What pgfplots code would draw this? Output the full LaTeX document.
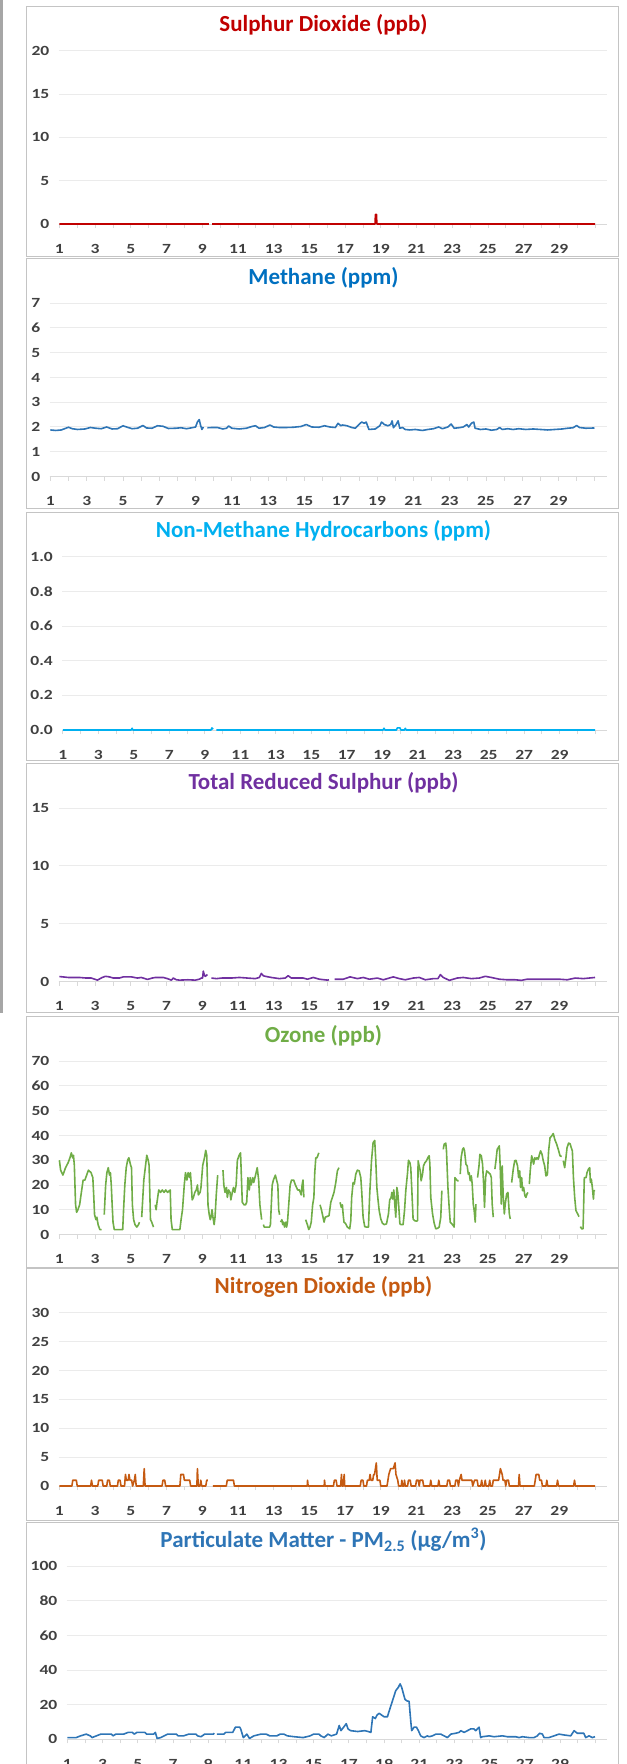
\documentclass[border=0pt]{standalone}
\usepackage{pgfplots}
\pgfplotsset{compat=1.18}
\usepackage{fontspec}
\setmainfont{Carlito}
\newfontfamily\tickfont[FakeStretch=1.25]{Carlito}
\newcommand{\tkf}{\tickfont\bfseries\fontsize{14bp}{14bp}\selectfont}
\definecolor{lab}{HTML}{404040}
\definecolor{gridc}{HTML}{EBEBEB}
\definecolor{axc}{HTML}{D9D9D9}
\definecolor{framec}{HTML}{C4C4C4}
\definecolor{barc}{HTML}{A6A6A6}
\definecolor{cSO}{HTML}{C00000}
\definecolor{cCH}{HTML}{0070C0}
\definecolor{cCHl}{HTML}{2E75B6}
\definecolor{cNM}{HTML}{00B0F0}
\definecolor{cTR}{HTML}{7030A0}
\definecolor{cOZ}{HTML}{70AD47}
\definecolor{cNO}{HTML}{C55A11}
\definecolor{cPM}{HTML}{2E75B6}
\pgfplotsset{
  panel/.style={
    scale only axis, height=173.3bp,
    xmin=0.95, xmax=31.67, ymin=0,
    axis lines*=left,
    y axis line style={draw=none},
    x axis line style={draw=axc, line width=1bp},
    xtick={1,...,31},
    xticklabels={1,,3,,5,,7,,9,,11,,13,,15,,17,,19,,21,,23,,25,,27,,29,,},
    tick align=outside,
    xtick style={draw=axc, line width=0.8bp},
    major tick length=4bp,
    ytick style={draw=none},
    ymajorgrids, grid style={draw=gridc, line width=1bp},
    tick label style={font=\tkf, text=lab},
    yticklabel style={font=\tkf, text=lab, anchor=east, inner sep=0pt, xshift=-5bp},
    xticklabel style={font=\tkf, text=lab, anchor=base, inner sep=0pt, yshift=-25bp},
    /pgf/number format/assume math mode=true,
    unbounded coords=jump,
    every axis plot/.append style={line width=1.6bp, line join=round},
  }
}
\tikzset{ttl/.style={anchor=base, font=\bfseries\fontsize{23bp}{23bp}\selectfont}}
\begin{document}
\begin{tikzpicture}
\useasboundingbox (0,0) rectangle (627bp,-1764bp);
\fill[barc] (0,0) rectangle (3.3bp,-1013bp);
\foreach \t/\b in {6/256,258.5/508,512/760,763.5/1012.7,1016.5/1267,1268/1520,1522/1775}{
  \draw[framec, line width=1bp] (26bp,-\t bp) rectangle (618.7bp,-\b bp);
}
% ---------- Sulphur dioxide
\node[ttl, text=cSO] at (323.5bp,-31.7bp) {Sulphur Dioxide (ppb)};
\begin{axis}[panel, at={(58.5bp,-224bp)}, anchor=south west, width=548.5bp,
  ymax=20, ytick={0,5,10,15,20}]
\addplot[cSO] coordinates {(1,0)(9.37,0)(9.45,nan)(9.55,0)(18.68,0)(18.7,1.1)(18.76,1.1)(18.78,0)(31,0)};
\end{axis}
% ---------- Methane
\node[ttl, text=cCH] at (323.5bp,-284.3bp) {Methane (ppm)};
\begin{axis}[panel, at={(49.5bp,-476.5bp)}, anchor=south west, width=557.5bp,
  ymax=7, ytick={0,1,...,7}]
\addplot[cCHl] coordinates {(1.0,1.88)(1.3,1.86)(1.6,1.88)(1.85,1.95)(2.0,1.99)(2.2,1.93)(2.5,1.9)(2.9,1.92)(3.2,1.98)(3.5,1.95)(3.8,1.93)(4.1,2.0)(4.4,1.92)(4.7,1.93)(5.0,2.05)(5.2,2.0)(5.5,1.93)(5.8,1.95)(6.1,2.06)(6.3,1.96)(6.6,1.95)(6.9,2.05)(7.2,2.03)(7.5,1.94)(7.9,1.95)(8.2,1.97)(8.5,1.93)(8.8,1.97)(9.0,2.0)(9.1,2.2)(9.2,2.3)(9.28,2.05)(9.35,1.9)(9.43,2.0)(9.5,nan)(9.65,1.97)(9.9,1.98)(10.2,1.98)(10.5,1.92)(10.7,1.95)(10.82,2.04)(11.0,1.95)(11.4,1.92)(11.8,1.95)(12.1,2.02)(12.3,2.05)(12.5,1.95)(12.8,1.98)(13.1,2.08)(13.3,2.0)(13.6,1.98)(14.0,1.98)(14.4,1.99)(14.8,2.02)(15.1,2.1)(15.4,2.0)(15.8,1.99)(16.1,2.05)(16.4,2.0)(16.7,1.98)(16.85,2.15)(17.0,2.05)(17.1,2.08)(17.34,2.05)(17.6,1.98)(17.8,1.95)(18.0,2.1)(18.15,2.2)(18.3,2.15)(18.4,2.2)(18.55,1.9)(18.9,1.92)(19.15,2.05)(19.25,2.2)(19.4,2.1)(19.6,2.05)(19.75,2.1)(19.83,2.25)(19.9,1.97)(20.05,2.1)(20.16,2.25)(20.25,1.95)(20.4,1.98)(20.55,1.9)(20.8,1.88)(21.1,1.9)(21.5,1.86)(21.8,1.9)(22.1,1.93)(22.4,2.0)(22.6,1.93)(22.9,2.0)(23.08,2.12)(23.25,1.95)(23.5,1.97)(23.75,2.0)(23.95,2.1)(24.05,2.0)(24.2,2.15)(24.33,2.2)(24.4,1.95)(24.7,1.9)(25.0,1.92)(25.3,1.87)(25.6,1.9)(25.75,1.98)(25.9,1.9)(26.2,1.93)(26.5,1.9)(26.8,1.93)(27.2,1.9)(27.6,1.92)(28.0,1.9)(28.4,1.88)(28.8,1.9)(29.2,1.92)(29.5,1.95)(29.8,1.97)(30.0,2.06)(30.15,1.98)(30.5,1.95)(30.98,1.96)};
\end{axis}
% ---------- NMHC
\node[ttl, text=cNM] at (323.5bp,-537.7bp) {Non-Methane Hydrocarbons (ppm)};
\begin{axis}[panel, at={(62bp,-730bp)}, anchor=south west, width=545bp,
  ymax=1, ytick={0,0.2,0.4,0.6,0.8,1.0},
  yticklabel style={/pgf/number format/.cd, fixed, fixed zerofill, precision=1}]
\addplot[cNM] coordinates {(1,0)(4.85,0)(4.9,0.01)(4.95,0)(9.35,0)(9.4,0.012)(9.47,0.005)(9.52,nan)(9.65,0)(19.05,0)(19.1,0.01)(19.15,0)(19.8,0)(19.85,0.012)(20.0,0.012)(20.05,0)(20.25,0)(20.3,0.01)(20.35,0)(31,0)};
\end{axis}
% ---------- TRS
\node[ttl, text=cTR] at (323.5bp,-789.2bp) {Total Reduced Sulphur (ppb)};
\begin{axis}[panel, at={(58.5bp,-981.5bp)}, anchor=south west, width=548.5bp,
  ymax=15, ytick={0,5,10,15}]
\addplot[cTR] coordinates {(1.0,0.43)(1.5,0.35)(2.12,0.35)(2.5,0.3)(2.79,0.3)(3.13,0.12)(3.4,0.35)(3.58,0.45)(3.8,0.4)(4.02,0.3)(4.36,0.3)(4.58,0.4)(5.03,0.4)(5.37,0.3)(5.59,0.35)(5.93,0.18)(6.2,0.3)(6.38,0.35)(6.82,0.35)(7.05,0.25)(7.27,0.12)(7.38,0.3)(7.55,0.15)(7.72,0.12)(8.2,0.15)(8.61,0.12)(8.84,0.2)(8.95,0.3)(9.02,0.3)(9.06,0.9)(9.12,0.55)(9.17,0.45)(9.29,0.6)(9.35,nan)(9.51,0.3)(9.8,0.25)(10.1,0.3)(10.63,0.3)(11.08,0.35)(11.53,0.3)(11.97,0.25)(12.2,0.35)(12.31,0.7)(12.42,0.5)(12.53,0.45)(12.87,0.35)(13.32,0.25)(13.65,0.3)(13.81,0.5)(13.99,0.3)(14.4,0.3)(14.66,0.3)(14.89,0.2)(15.22,0.35)(15.56,0.2)(16.01,0.12)(16.1,0.15)(16.2,nan)(16.41,0.2)(16.9,0.2)(17.28,0.4)(17.69,0.25)(18.02,0.35)(18.36,0.2)(18.81,0.3)(19.14,0.15)(19.7,0.4)(20.04,0.25)(20.37,0.15)(20.82,0.3)(21.16,0.35)(21.49,0.15)(21.94,0.25)(22.2,0.25)(22.34,0.6)(22.5,0.35)(22.84,0.1)(23.28,0.3)(23.62,0.35)(24.07,0.25)(24.52,0.3)(24.85,0.45)(25.19,0.35)(25.64,0.2)(26.08,0.15)(26.53,0.15)(26.87,0.1)(27.2,0.2)(28.1,0.2)(28.99,0.2)(29.44,0.15)(29.89,0.3)(30.34,0.25)(31.0,0.35)};
\end{axis}
% ---------- Ozone
\node[ttl, text=cOZ] at (323.5bp,-1042.2bp) {Ozone (ppb)};
\begin{axis}[panel, at={(58.5bp,-1234.5bp)}, anchor=south west, width=548.5bp,
  ymax=70, ytick={0,10,...,70}]
\addplot[cOZ] coordinates {(1.00,30)(1.069,26)(1.197,24)(1.345,27)(1.49,29)(1.591,31)(1.67,33)(1.739,31)(1.788,32)(1.837,28)(1.906,12)(1.965,9)(2.034,10)(2.133,12)(2.231,17)(2.33,22)(2.428,22)(2.527,24)(2.625,26)(2.773,25)(2.872,23)(2.921,16)(2.97,8)(3.049,6)(3.098,7)(3.167,4)(3.266,2)(3.364,2)(3.413,nan)(3.512,8)(3.591,20)(3.66,25)(3.738,27)(3.807,24)(3.857,25)(3.906,20)(3.955,12)(4.004,5)(4.073,2)(4.546,2)(4.595,10)(4.664,20)(4.743,27)(4.822,30)(4.891,31)(4.989,28)(5.039,27)(5.088,12)(5.157,6)(5.236,4)(5.334,3)(5.433,4)(5.482,5)(5.531,nan)(5.61,7)(5.728,22)(5.827,28)(5.895,32)(5.974,30)(6.024,28)(6.102,6)(6.171,5)(6.27,3)(6.319,nan)(6.368,12)(6.418,10)(6.467,13)(6.565,18)(6.664,17)(6.762,18)(6.861,17)(6.959,18)(7.058,17)(7.206,18)(7.255,6)(7.324,2)(7.747,2)(7.816,6)(7.895,10)(7.994,20)(8.062,25)(8.141,22)(8.21,25)(8.289,23)(8.338,25)(8.388,20)(8.437,14)(8.506,15)(8.585,17)(8.663,18)(8.732,20)(8.782,16)(8.88,17)(8.929,19)(9.028,28)(9.126,31)(9.195,34)(9.254,32)(9.323,12)(9.392,8)(9.451,6)(9.491,7)(9.55,10)(9.599,7)(9.668,4)(9.717,7)(9.786,16)(9.865,24)(9.964,nan)(10.161,26)(10.21,20)(10.279,17)(10.358,19)(10.407,15)(10.476,18)(10.555,17)(10.604,14)(10.683,17)(10.752,19)(10.82,17)(10.899,20)(10.968,30)(11.067,32)(11.146,33)(11.244,13)(11.343,12)(11.421,12)(11.49,13)(11.559,23)(11.638,18)(11.687,23)(11.737,20)(11.835,23)(11.884,21)(11.953,23)(12.081,27)(12.16,22)(12.229,12)(12.328,6)(12.377,nan)(12.426,4)(12.475,3)(12.771,3)(12.82,4)(12.869,12)(12.919,20)(12.987,22)(13.096,24)(13.165,22)(13.234,20)(13.283,10)(13.332,8)(13.362,nan)(13.391,5)(13.46,6)(13.51,4)(13.559,5)(13.608,3)(13.687,5)(13.726,3)(13.775,5)(13.854,13)(13.923,20)(14.002,22)(14.12,22)(14.219,20)(14.347,18)(14.445,18)(14.544,16)(14.593,20)(14.642,22)(14.692,15)(14.741,nan)(14.79,6)(14.889,4)(14.967,2)(15.036,3)(15.105,5)(15.184,12)(15.253,15)(15.302,25)(15.361,31)(15.43,31)(15.48,32)(15.529,33)(15.558,nan)(15.598,12)(15.677,10)(15.736,8)(15.824,5)(15.893,7)(16.10,7.6)(16.20,13)(16.29,15)(16.38,17)(16.48,21)(16.57,25.7)(16.66,27)(16.69,nan)(16.72,13)(16.79,11)(16.85,12)(16.89,8.3)(16.94,5)(17.04,4.3)(17.13,3)(17.26,2.3)(17.32,5.6)(17.37,15)(17.45,21)(17.52,20.4)(17.60,24.4)(17.69,26)(17.79,25.7)(17.88,23)(17.93,17.7)(18.01,7)(18.10,3.2)(18.20,3)(18.31,3)(18.38,16.4)(18.48,29.8)(18.57,37.1)(18.66,38)(18.72,29.8)(18.78,19)(18.85,13.7)(18.91,9.7)(19.00,6.3)(19.09,4.6)(19.19,4)(19.32,4.3)(19.43,8.3)(19.50,14)(19.58,15)(19.62,17)(19.67,14.3)(19.73,18)(19.79,11.7)(19.84,7)(19.90,19)(19.95,17)(20.01,11)(20.07,4.3)(20.14,4)(20.25,4)(20.33,9.7)(20.40,17.7)(20.50,25)(20.55,30)(20.63,29)(20.68,27)(20.74,17.7)(20.81,6.3)(20.89,5.6)(21.00,5.4)(21.06,5.6)(21.09,29.8)(21.15,27.7)(21.21,25.7)(21.26,21.7)(21.34,24.4)(21.39,27.7)(21.47,29)(21.56,29.8)(21.64,31.1)(21.71,31.8)(21.75,28.4)(21.80,15)(21.90,8.3)(21.99,4.6)(22.08,2.3)(22.18,2.5)(22.27,3)(22.36,7)(22.42,17.7)(22.46,nan)(22.50,34.4)(22.55,36.5)(22.64,36.9)(22.68,33.8)(22.76,19)(22.83,11)(22.89,5)(22.98,4.3)(23.06,3.6)(23.11,3)(23.15,23)(23.21,22.4)(23.30,21.7)(23.36,21.7)(23.40,nan)(23.45,24.4)(23.50,31)(23.58,34.4)(23.64,35)(23.69,33.8)(23.77,28.4)(23.84,27.7)(23.90,24.4)(23.95,25)(24.01,21.7)(24.07,23.7)(24.12,20.4)(24.18,12.3)(24.23,9.7)(24.29,5)(24.33,12.3)(24.37,nan)(24.42,23)(24.50,27.7)(24.55,32.4)(24.63,31.8)(24.70,28.4)(24.76,20.4)(24.81,11)(24.87,23)(24.93,25.7)(25.04,25)(25.13,24.4)(25.19,23)(25.24,12.3)(25.30,7)(25.35,nan)(25.39,26.4)(25.45,29.8)(25.52,34.4)(25.64,35.8)(25.69,27)(25.75,12.3)(25.80,27.7)(25.86,15)(25.92,8.3)(25.97,12.3)(26.05,16.4)(26.12,17)(26.20,8.3)(26.25,6.3)(26.29,nan)(26.33,21)(26.42,26.4)(26.50,29.8)(26.57,30)(26.66,27.7)(26.72,23)(26.78,25.7)(26.83,19)(26.89,23)(26.94,17.7)(27.00,19)(27.07,15.7)(27.13,15)(27.19,16.4)(27.24,17)(27.28,nan)(27.32,20.4)(27.37,25.7)(27.45,31.8)(27.50,30.4)(27.56,28.4)(27.62,31)(27.69,30.4)(27.75,31)(27.82,30.4)(27.88,32.2)(27.95,33.8)(28.03,32.4)(28.10,29.8)(28.18,27.7)(28.25,23.7)(28.33,24.1)(28.40,33.8)(28.48,39.1)(28.57,39.8)(28.66,40.8)(28.74,38.5)(28.85,36.5)(28.94,34.4)(29.04,31.8)(29.13,31.5)(29.18,nan)(29.22,29.8)(29.30,27)(29.37,31)(29.43,35)(29.52,36.9)(29.60,36.7)(29.67,35)(29.73,33.8)(29.79,23)(29.86,15)(29.93,9.7)(30.03,8.3)(30.10,7.2)(30.14,nan)(30.18,3.2)(30.25,2.3)(30.33,2.3)(30.40,23)(30.50,23)(30.55,25)(30.63,26.4)(30.70,27)(30.74,21)(30.79,22.4)(30.85,19)(30.91,14.3)(30.94,17.7)(31.00,17.7)};
\end{axis}
% ---------- NO2
\node[ttl, text=cNO] at (323.5bp,-1293.7bp) {Nitrogen Dioxide (ppb)};
\begin{axis}[panel, at={(58.5bp,-1486bp)}, anchor=south west, width=548.5bp,
  ymax=30, ytick={0,5,...,30}]
\addplot[cNO] coordinates {(1,0)(1.7,0)(1.75,1)(1.95,1)(2.0,0)(2.75,0)(2.8,1)(2.85,0)(3.15,0)(3.2,1)(3.4,1)(3.45,0)(3.65,0)(3.7,1)(3.8,1)(3.85,0)(4.25,0)(4.3,1)(4.4,1)(4.45,0)(4.65,0)(4.7,2)(4.75,1)(4.85,1)(4.9,2)(4.95,1)(5.05,1)(5.1,0)(5.2,1)(5.25,2)(5.3,0)(5.7,0)(5.75,3)(5.8,0)(6.75,0)(6.8,1)(6.9,1)(6.95,0)(7.75,0)(7.8,2)(7.95,2)(8.0,1)(8.3,1)(8.35,0)(8.7,0)(8.73,3)(8.78,0)(8.88,0)(8.92,1)(8.97,0)(9.2,0)(9.25,1)(9.32,1)(9.35,nan)(9.6,0)(10.35,0)(10.4,1)(10.75,1)(10.8,0)(14.88,0)(14.9,1)(14.93,0)(15.83,0)(15.85,1)(15.88,0)(16.35,0)(16.4,1)(16.5,1)(16.55,0)(16.75,0)(16.8,2)(16.83,0)(16.9,0)(16.95,2)(16.98,0)(17.85,0)(17.9,1)(18.0,1)(18.05,0)(18.2,0)(18.25,1)(18.35,1)(18.4,2)(18.45,1)(18.55,1)(18.6,2)(18.65,2)(18.75,4)(18.8,1)(18.95,1)(19.0,0)(19.35,0)(19.45,2)(19.55,3)(19.7,3)(19.8,4)(19.85,2)(19.95,1)(20.0,0)(20.15,0)(20.18,1)(20.22,0)(20.3,0)(20.33,1)(20.37,0)(20.5,0)(20.55,1)(20.65,1)(20.7,0)(20.95,0)(21.0,1)(21.1,1)(21.15,0)(21.2,1)(21.35,1)(21.4,0)(21.75,0)(21.8,1)(21.85,0)(22.2,0)(22.25,1)(22.3,0)(22.7,0)(22.75,1)(22.85,1)(22.9,0)(23.15,0)(23.2,1)(23.3,1)(23.35,0)(23.4,1)(23.5,2)(23.55,1)(24.1,1)(24.15,0)(24.25,1)(24.4,1)(24.45,0)(24.6,0)(24.65,1)(24.7,0)(24.8,0)(24.85,1)(24.9,0)(25.05,0)(25.1,1)(25.15,0)(25.25,0)(25.3,1)(25.6,1)(25.7,3)(25.8,2)(25.85,1)(25.95,1)(26.0,0)(26.05,1)(26.15,1)(26.2,0)(26.72,0)(26.75,2)(26.8,0)(27.6,0)(27.65,1)(27.7,2)(27.85,2)(27.9,1)(28.0,1)(28.05,0)(28.25,0)(28.3,1)(28.35,0)(28.85,0)(28.9,1)(28.95,0)(29.8,0)(29.85,1)(29.9,0)(31,0)};
\end{axis}
% ---------- PM2.5
\node[ttl, text=cPM] at (323.5bp,-1547.7bp) {Particulate Matter - PM\textsubscript{2.5} (μg/m\textsuperscript{3})};
\begin{axis}[panel, at={(66.5bp,-1739.3bp)}, anchor=south west, width=540.5bp,
  ymax=100, ytick={0,20,...,100}]
\addplot[cPM] coordinates {(1.0,1)(1.5,1)(1.75,2)(2.07,3)(2.3,2)(2.4,1)(2.65,2)(2.9,3)(3.2,3)(3.5,3)(3.6,2)(3.75,3)(4.2,3)(4.45,4)(4.7,4)(4.8,3)(4.95,4)(5.4,4)(5.5,3)(5.9,3)(6.0,4)(6.1,0.5)(6.3,1)(6.5,2)(6.7,3)(7.2,3)(7.3,2)(7.6,2)(7.9,3)(8.3,3)(8.4,2)(8.6,1.5)(8.8,3)(9.3,3)(9.35,3.5)(9.4,nan)(9.5,3)(9.9,3)(10.0,4)(10.4,4)(10.55,7)(10.8,7)(10.85,6)(11.0,1)(11.2,3)(11.35,0.5)(11.6,2)(12.0,3)(12.3,3)(12.5,2)(12.9,2)(13.1,3)(13.3,3)(13.5,2)(13.9,1.5)(14.4,1)(14.8,2)(15.0,3)(15.3,3)(15.4,2)(15.6,1)(15.8,3)(16.0,2)(16.3,3)(16.45,8)(16.55,5)(16.7,7)(16.85,9)(16.95,6)(17.1,5)(17.5,4.5)(17.9,5)(18.1,4.5)(18.25,4)(18.35,13)(18.5,12)(18.6,14)(18.72,15)(19.0,13)(19.19,13)(19.28,16)(19.47,22)(19.66,28)(19.81,30)(19.91,32)(20.0,30)(20.08,27)(20.19,23)(20.33,22)(20.42,22)(20.52,10)(20.57,5)(20.7,7)(20.84,7)(20.95,5)(21.08,2)(21.27,1)(21.46,2)(21.56,1.5)(21.75,2)(21.94,3)(22.22,3)(22.41,2)(22.6,1)(22.79,3)(23.07,3.5)(23.26,4)(23.36,5)(23.55,4)(23.74,5)(23.92,6)(24.11,6)(24.21,5)(24.4,7)(24.49,1)(24.59,1.5)(24.97,2)(25.25,1.5)(25.72,2)(26.01,1.5)(26.48,1.5)(26.67,1)(26.86,1.5)(27.24,1)(27.52,1)(27.71,2)(27.84,3.5)(28.0,3)(28.09,1)(28.37,1)(28.66,2)(28.94,3)(29.23,2.5)(29.61,2)(29.8,5)(29.98,3.5)(30.27,3.5)(30.35,3.5)(30.46,1)(30.65,2)(30.84,1)(30.99,1.5)};
\end{axis}
\end{tikzpicture}
\end{document}
